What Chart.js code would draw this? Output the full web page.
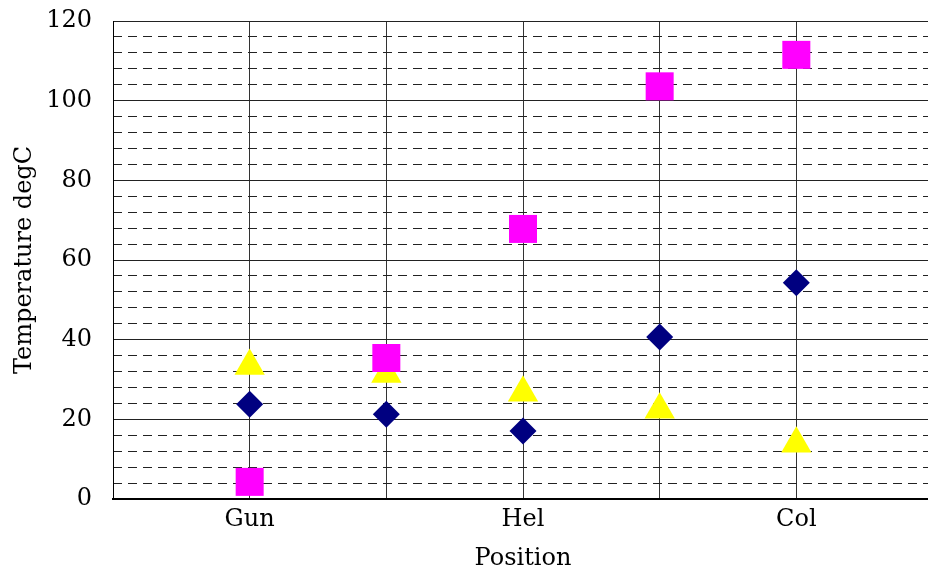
<!DOCTYPE html>
<html>
<head>
<meta charset="utf-8">
<script src="https://cdn.jsdelivr.net/npm/chart.js@4"></script>
<style>
  html, body { margin: 0; padding: 0; background: #fff; overflow: hidden; }
  canvas { display: block; }
</style>
</head>
<body>
<canvas id="chart" width="933" height="577"></canvas>
<script>
// positions along the x axis (only every other one is labelled in the original)
const positions = ['Gun', '', 'Hel', '', 'Col'];
const xValues = [1, 2, 3, 4, 5];

// temperature readings, degC
const squareSeries = [4.3, 35.4, 67.8, 103.6, 111.5];
const diamondSeries = [23.8, 21.3, 17.1, 40.7, 54.3];
const triangleSeries = [33.4, 31.4, 26.7, 22.4, 13.9];

const yMajorTicks = [0, 20, 40, 60, 80, 100, 120];

const FONT = "'DejaVu Serif', serif";
Chart.defaults.font.family = FONT;
Chart.defaults.color = '#000';

function pts(vals) { return vals.map((v, i) => ({ x: xValues[i], y: v })); }

const ctx = document.getElementById('chart');
new Chart(ctx, {
    type: 'scatter',
    data: {
        datasets: [
            { label: 'square', data: pts(squareSeries), pointStyle: 'rect', pointRadius: 19.8, pointHoverRadius: 19.8,
              backgroundColor: '#ff00ff', borderColor: '#ff00ff', borderWidth: 0 },
            { label: 'diamond', data: pts(diamondSeries), pointStyle: 'rectRot', pointRadius: 13.5, pointHoverRadius: 13.5,
              backgroundColor: '#000080', borderColor: '#000080', borderWidth: 0 },
            { label: 'triangle', data: pts(triangleSeries), pointStyle: 'triangle', pointRadius: 17.5, pointHoverRadius: 17.5,
              backgroundColor: '#ffff00', borderColor: '#ffff00', borderWidth: 0 }
        ]
    },
    options: {
        responsive: false, animation: false, devicePixelRatio: 1,
        layout: { padding: 0, autoPadding: false },
        plugins: { legend: { display: false }, tooltip: { enabled: false } },
        scales: {
            x: {
                type: 'linear', min: 0, max: 6,
                afterFit: a => { a.height = 78; a.paddingLeft = 0; a.paddingRight = 0; },
                ticks: { stepSize: 1, autoSkip: false, font: { size: 24 }, padding: 6,
                    callback: v => positions[v - 1] || '' },
                grid: { color: '#333', lineWidth: 1, drawTicks: false },
                border: { color: '#000', width: 2 },
                title: { display: true, text: 'Position', font: { size: 24 }, padding: { top: 4, bottom: 4 } }
            },
            yMinor: {
                type: 'linear', position: 'left', min: 0, max: 120,
                afterFit: a => { a.width = 0; a.paddingTop = 0; a.paddingBottom = 0; },
                ticks: { display: false, stepSize: 4 },
                grid: { drawTicks: false, lineWidth: 1,
                    color: c => (c.tick && c.tick.value % 20 === 0) ? 'rgba(0,0,0,0)' : '#222' },
                border: { display: false, dash: [9, 6] }
            },
            y: {
                min: 0, max: 120,
                afterBuildTicks: axis => { axis.ticks = yMajorTicks.map(v => ({ value: v })); },
                afterFit: a => { a.width = 113; a.paddingTop = 21; a.paddingBottom = 0; },
                ticks: { font: { size: 24 }, padding: 21 },
                grid: { color: '#222', lineWidth: 1, drawTicks: false },
                border: { color: '#000', width: 1 },
                title: { display: true, text: 'Temperature degC', font: { size: 24 }, padding: { top: 10, bottom: 6 } }
            }
        }
    }
});
</script>
</body>
</html>
